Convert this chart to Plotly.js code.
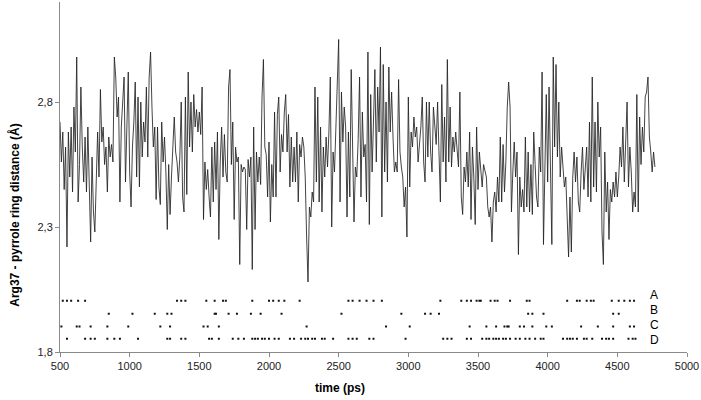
<!DOCTYPE html>
<html>
<head>
<meta charset="utf-8">
<script src="https://cdn.plot.ly/plotly-3.0.1.min.js"></script>
<style>html,body{margin:0;padding:0;background:#fff;}#chart{width:701px;height:400px;}</style>
</head>
<body>
<div id="chart"></div>
<script>
// sampling of the trajectory (ps)
const T_START = 500;
const T_STEP = 10;

// Arg37 - pyrrole ring distance (Å), one value per 10 ps
const distance = [
2.72,2.56,2.68,2.45,2.62,2.22,2.68,2.50,2.70,2.44,
2.78,2.60,2.98,2.40,2.55,2.86,2.62,2.48,2.66,2.44,
2.70,2.40,2.24,2.58,2.36,2.28,2.55,2.68,2.50,2.85,
2.64,2.70,2.55,2.62,2.44,2.66,2.58,2.63,2.56,2.98,
2.90,2.74,2.82,2.40,2.70,2.82,2.90,2.48,2.78,2.92,
2.52,2.38,2.62,2.72,
2.88,2.50,2.82,2.46,2.80,2.58,2.72,2.64,2.86,2.58,
2.90,3.00,2.78,2.62,2.70,2.41,2.70,2.46,2.39,2.72,
2.56,2.66,2.52,2.29,2.55,2.35,2.50,2.60,2.74,2.60,
2.56,2.48,2.58,2.80,2.42,2.36,2.82,2.43,2.92,2.62,
2.80,2.60,2.83,2.70,2.77,2.68,2.76,2.67,2.86,2.33,
2.56,2.45,2.53,2.42,
2.34,2.62,2.40,2.64,2.45,2.68,2.25,2.56,2.70,2.50,
2.67,2.52,2.48,2.86,2.93,2.55,2.72,2.33,2.62,2.56,
2.58,2.15,2.55,2.52,2.54,2.53,2.29,2.57,2.50,2.58,
2.13,2.70,2.29,2.60,2.48,2.58,2.47,2.82,2.97,2.62,
2.59,2.42,2.64,2.32,2.55,2.42,2.76,2.42,2.75,2.82,
2.52,2.67,2.60,2.76,
2.83,2.60,2.75,2.46,2.66,2.48,2.62,2.48,2.68,2.40,
2.63,2.58,2.66,2.62,2.50,2.26,2.08,2.38,2.34,2.44,
2.40,2.86,2.48,2.82,2.40,2.70,2.36,2.62,2.50,2.66,
2.54,2.68,2.90,2.30,2.60,2.52,2.70,2.80,3.05,2.40,
2.84,2.64,2.78,2.70,2.34,2.68,2.42,2.93,2.55,2.32,
2.54,2.50,2.65,
2.90,2.42,2.76,2.58,2.63,2.40,3.00,2.31,2.83,2.52,
2.71,2.93,2.56,2.86,2.68,3.02,2.34,2.95,2.52,2.80,
2.48,2.94,2.68,2.84,2.66,2.52,2.56,2.52,2.89,2.60,
2.54,2.50,2.38,2.46,2.26,2.82,2.46,2.68,2.62,2.74,
2.66,2.70,2.56,2.62,2.70,2.82,2.56,2.48,2.80,2.58,
2.80,2.60,2.52,2.78,
2.72,2.63,2.80,2.58,2.40,2.87,2.56,2.74,2.48,2.97,
2.56,2.78,2.54,2.66,2.60,2.68,2.62,2.54,2.84,2.42,
2.35,2.54,2.48,2.60,2.46,2.68,2.33,2.62,2.50,2.31,
2.70,2.45,2.60,2.52,2.46,2.55,2.52,2.50,2.38,2.34,
2.38,2.24,2.40,2.44,2.36,2.50,2.40,2.66,2.40,2.63,
2.44,2.56,2.78,2.88,2.78,
2.36,2.52,2.64,2.50,2.60,2.19,2.50,2.38,2.45,2.36,
2.66,2.38,2.60,2.36,2.55,2.35,2.68,2.55,2.42,2.38,
2.62,2.52,2.92,2.23,2.60,2.83,2.48,2.86,2.54,2.23,
2.98,2.62,2.95,2.58,2.80,2.50,2.62,2.54,2.46,2.50,
2.30,2.18,2.42,2.20,2.50,2.60,2.48,2.58,2.40,2.36,
2.52,2.62,2.45,
2.52,2.62,2.42,2.72,2.40,2.90,2.46,2.72,2.44,2.80,
2.58,2.70,2.28,2.15,2.60,2.36,2.48,2.25,2.45,2.40,
2.48,2.42,2.52,2.42,2.50,2.62,2.54,2.70,2.48,2.64,
2.80,2.46,2.62,2.52,2.36,2.44,2.38,2.83,2.36,2.74,
2.55,2.70,2.60,2.82,2.84,2.90,2.66,2.60,2.52,2.60,
2.54
];

// event rows (times in ps where each interaction is present)
const rowNames = ["A", "B", "C", "D"];
const rowLevels = [2.005, 1.953, 1.902, 1.853];
const rowLabelLevels = [2.03, 1.97, 1.91, 1.85];
const rowA = [520,550,580,630,680,1340,1370,1400,1550,1610,1670,1690,1880,2000,2030,2070,2110,2220,2570,2600,2650,2700,2750,2810,3230,3380,3420,3450,3490,3510,3520,3590,3620,3640,3730,3850,3870,4140,4210,4230,4280,4310,4330,4460,4510,4550,4590,4620];
const rowB = [850,1020,1180,1270,1300,1610,1620,1710,1770,1870,1940,2090,2520,2950,3120,3160,3220,3860,3890,3970,4470,4510];
const rowC = [510,620,640,720,840,990,1220,1290,1530,1560,1640,2270,2840,3010,3440,3560,3630,3690,3710,3720,3800,3830,3890,3990,4030,4240,4360,4470,4590,4620];
const rowD = [550,680,720,750,840,890,930,1060,1270,1290,1370,1400,1570,1590,1640,1740,1780,1820,1880,1900,1920,1950,1970,2000,2040,2070,2150,2180,2230,2260,2280,2310,2330,2380,2400,2460,2570,2600,2630,2720,2750,2980,3250,3280,3310,3420,3450,3530,3560,3580,3610,3630,3650,3680,3700,3730,3770,3800,3840,3870,3910,3950,3970,4110,4140,4160,4180,4210,4260,4280,4320,4390,4420,4440,4470,4580,4610,4630];
const rows = [rowA, rowB, rowC, rowD];

const xTickVals = [500,1000,1500,2000,2500,3000,3500,4000,4500,5000];
const yTickVals = [1.8, 2.3, 2.8];

const time = distance.map((_, i) => T_START + i * T_STEP);

const FONT = '"Liberation Sans", Arial, sans-serif';

const traces = [{
  type: 'scatter', mode: 'lines', x: time, y: distance,
  line: {color: '#222', width: 0.85}, hoverinfo: 'skip', showlegend: false
}];
rows.forEach((r, i) => {
  traces.push({
    type: 'scatter', mode: 'markers', x: r, y: r.map(() => rowLevels[i]),
    marker: {symbol: 'square', size: 2, color: '#111', line: {width: 0}},
    showlegend: false, hoverinfo: 'skip'
  });
});

const annotations = rowNames.map((n, i) => ({
  x: 4725, y: rowLabelLevels[i], xref: 'x', yref: 'y', text: n, showarrow: false,
  xanchor: 'left', yanchor: 'middle', borderpad: 0,
  font: {family: FONT, size: 12, color: '#000'}
}));
annotations.push({
  xref: 'paper', yref: 'paper', x: -0.073, y: 0.39, text: 'Arg37 - pyrrole ring distance (Å)',
  textangle: -90, showarrow: false, xanchor: 'center', yanchor: 'middle',
  font: {family: FONT, size: 12, color: '#000', weight: 'bold'}
});
annotations.push({
  xref: 'paper', yref: 'paper', x: 0.447, y: -0.103, text: 'time (ps)',
  showarrow: false, xanchor: 'center', yanchor: 'middle',
  font: {family: FONT, size: 12, color: '#000', weight: 'bold'}
});

const layout = {
  width: 701, height: 400,
  margin: {l: 60, r: 14, t: 2, b: 48, pad: 0},
  paper_bgcolor: '#fff', plot_bgcolor: '#fff',
  separators: ', ',
  font: {family: FONT, size: 11, color: '#222'},
  xaxis: {
    range: [500, 5000], tickvals: xTickVals, ticktext: xTickVals.map(String),
    showline: true, linecolor: '#8a8a8a', linewidth: 1,
    ticks: 'outside', ticklen: 4, tickcolor: '#8a8a8a',
    showgrid: false, zeroline: false, tickfont: {family: FONT, size: 11, color: '#222'}
  },
  yaxis: {
    range: [1.8, 3.2], tickvals: yTickVals, tickformat: '.1f',
    showline: true, linecolor: '#8a8a8a', linewidth: 1,
    ticks: 'outside', ticklen: 4, tickcolor: '#8a8a8a',
    showgrid: false, zeroline: false, tickfont: {family: FONT, size: 11, color: '#222'}
  },
  annotations: annotations
};

Plotly.newPlot('chart', traces, layout, {staticPlot: true, displayModeBar: false});
</script>
</body>
</html>
